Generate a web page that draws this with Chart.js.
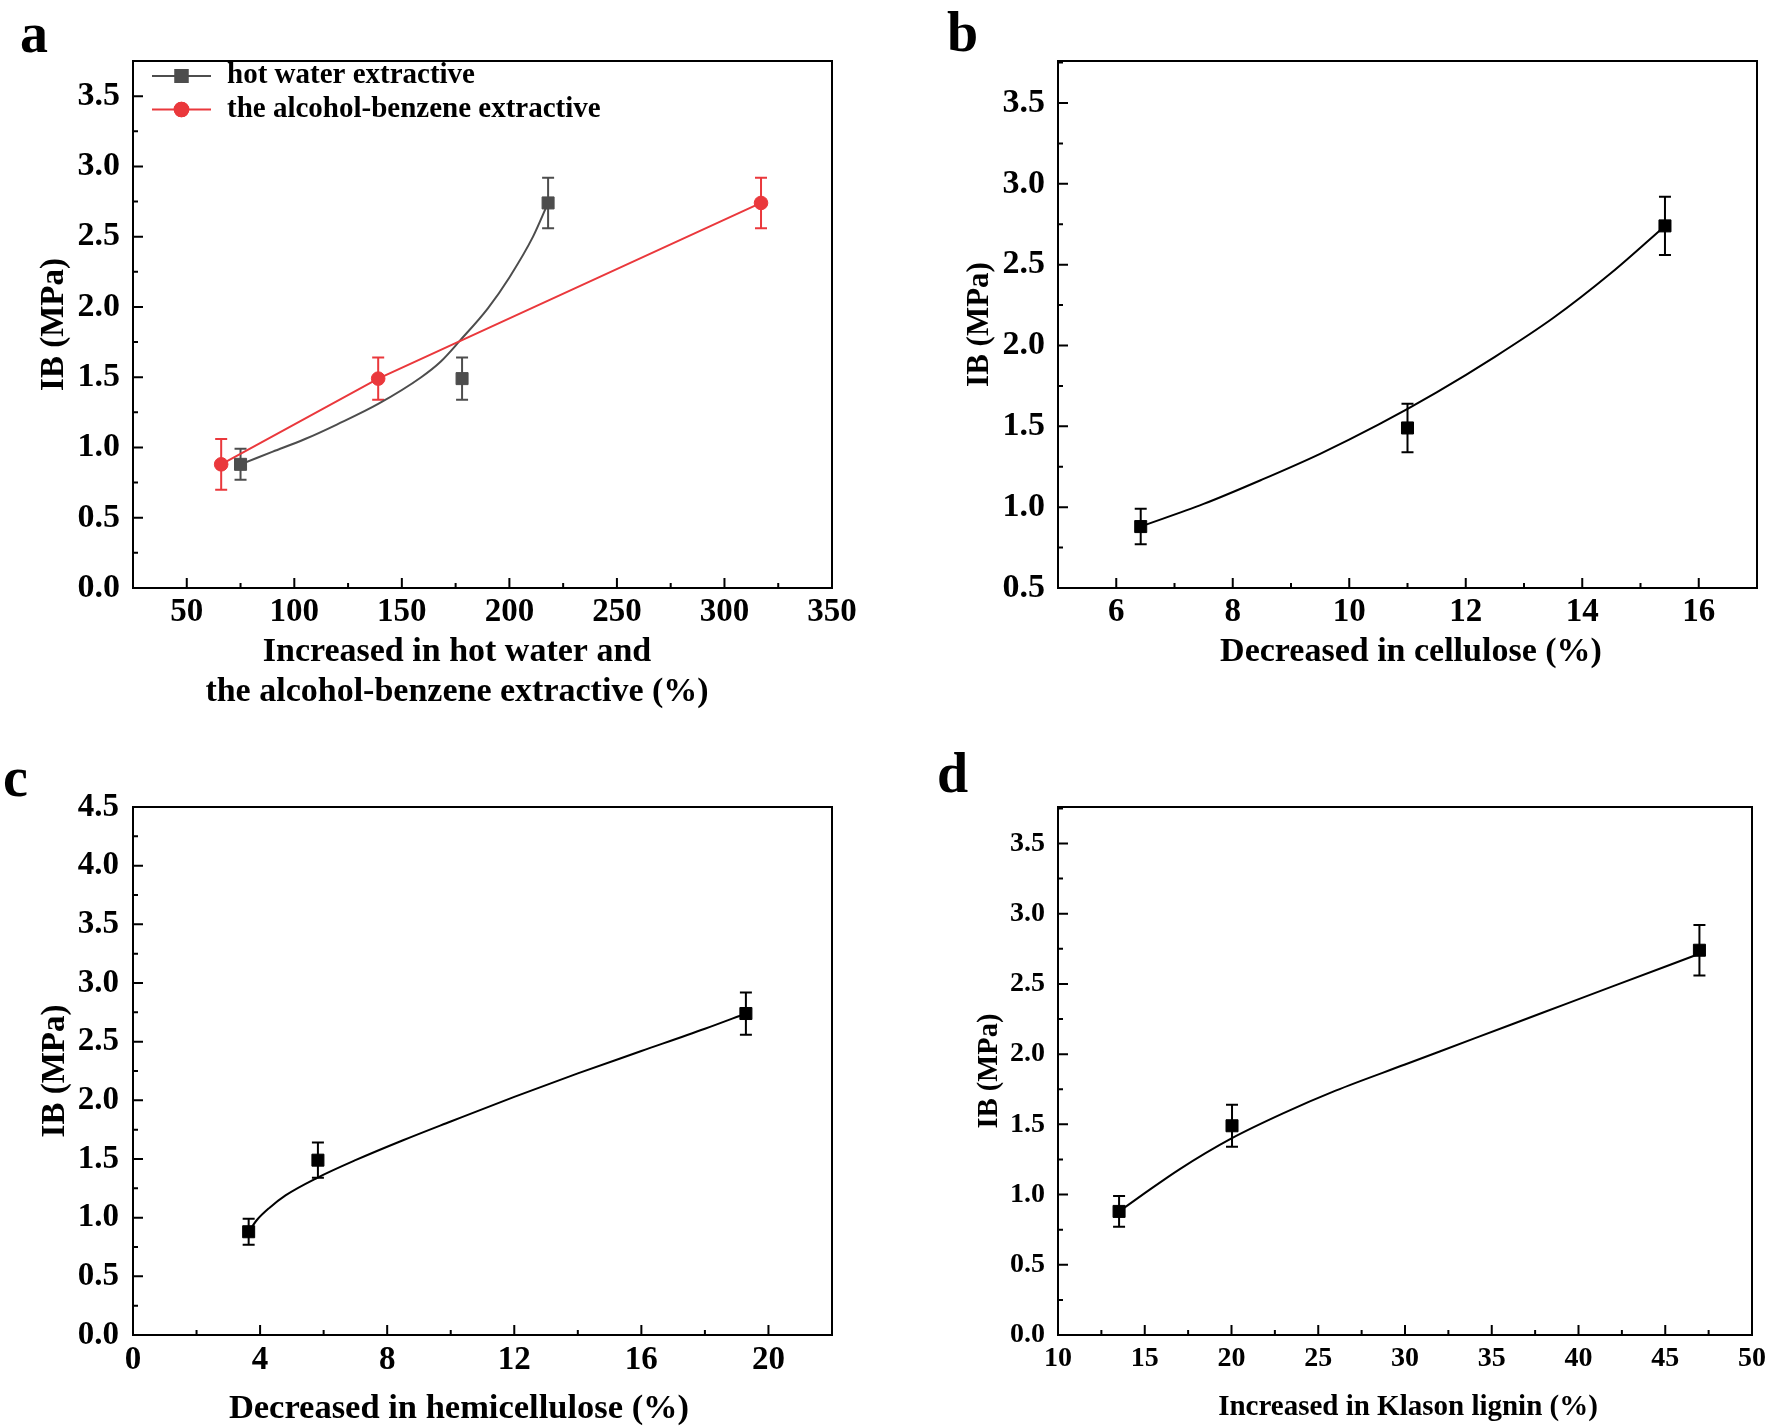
<!DOCTYPE html>
<html>
<head>
<meta charset="utf-8">
<script src="https://cdn.jsdelivr.net/npm/chart.js@4.4.1/dist/chart.umd.min.js"></script>
<style>
  html, body { margin: 0; padding: 0; background: #fff; }
  #fig { position: relative; width: 1773px; height: 1428px; overflow: hidden; background: #fff; }
  #fig canvas { position: absolute; }
</style>
</head>
<body>
<div id="fig">
  <canvas id="panelA" width="886" height="720" style="left:0;top:0"></canvas>
  <canvas id="panelB" width="887" height="720" style="left:886px;top:0"></canvas>
  <canvas id="panelC" width="886" height="708" style="left:0;top:720px"></canvas>
  <canvas id="panelD" width="887" height="708" style="left:886px;top:720px"></canvas>
</div>
<script>
const SERIF = '"Liberation Serif", "Times New Roman", serif';

// IB (MPa) of the three samples, shared by every panel
const ibMean = [0.88, 1.49, 2.74];
const ibErr = [0.11, 0.15, 0.18];

// a - extractives
const hotWaterX = [75, 178, 218];
const alcoholX = [66, 139, 317];
const alcoholErr = [0.18, 0.15, 0.18];
const hotFitX = [75, 90, 105, 120, 139, 159, 168, 177, 190, 200, 211, 218];
const hotFitY = [0.88, 0.97, 1.06, 1.165, 1.31, 1.50, 1.61, 1.76, 1.99, 2.21, 2.50, 2.74];

// b - cellulose
const celluloseX = [6.42, 11.0, 15.42];
const celluloseFitX = [6.42, 7.5, 8.5, 9.5, 10.5, 11.5, 12.5, 13.5, 14.5, 15.42];
const celluloseFitY = [0.88, 1.02, 1.17, 1.33, 1.51, 1.71, 1.93, 2.17, 2.45, 2.74];

// c - hemicellulose
const hemiX = [3.64, 5.82, 19.29];
const hemiFitX = [3.64, 3.9, 4.3, 4.8, 5.8, 7, 8.5, 10, 12, 14, 16, 18, 19.29];
const hemiFitY = [0.88, 0.98, 1.085, 1.19, 1.34, 1.49, 1.66, 1.82, 2.03, 2.23, 2.42, 2.61, 2.74];

// d - Klason lignin
const ligninX = [13.52, 20.03, 46.97];
const ligninFitX = [13.52, 15, 17, 20, 23, 26, 30, 34, 38, 42, 46.97];
const ligninFitY = [0.88, 1.01, 1.18, 1.40, 1.58, 1.74, 1.926, 2.112, 2.298, 2.484, 2.715];

// tick labels
const aXTicks = [50, 100, 150, 200, 250, 300, 350];
const aYTicks = [0, 0.5, 1, 1.5, 2, 2.5, 3, 3.5];
const bXTicks = [6, 8, 10, 12, 14, 16];
const bYTicks = [0.5, 1, 1.5, 2, 2.5, 3, 3.5];
const cXTicks = [0, 4, 8, 12, 16, 20];
const cYTicks = [0, 0.5, 1, 1.5, 2, 2.5, 3, 3.5, 4, 4.5];
const dXTicks = [10, 15, 20, 25, 30, 35, 40, 45, 50];
const dYTicks = [0, 0.5, 1, 1.5, 2, 2.5, 3, 3.5];

const GRAY = '#4d4d4d';
const RED = '#ea383c';
const BLACK = '#000000';

const pts = (xs, ys) => xs.map((x, i) => ({ x: x, y: ys[i] }));

function markerSet(xs, ys, errs, color, style, radius, legendText, joined) {
  return {
    data: pts(xs, ys),
    errors: errs,
    legendText: legendText,
    borderColor: color,
    backgroundColor: color,
    pointStyle: style,
    pointRadius: radius,
    pointBorderWidth: 1,
    pointBorderColor: color,
    pointBackgroundColor: color,
    showLine: !!joined,
    borderWidth: 2,
    tension: 0,
    order: 0
  };
}

function curveSet(xs, ys, color) {
  return {
    data: pts(xs, ys),
    borderColor: color,
    borderWidth: 2,
    showLine: true,
    pointRadius: 0,
    cubicInterpolationMode: 'monotone',
    order: 1
  };
}

function allTicks(spec) {
  const step = spec.minor, out = [];
  for (let v = spec.major[0]; v >= spec.min - 1e-9; v -= step) out.unshift(+v.toFixed(6));
  for (let v = spec.major[0] + step; v <= spec.max + 1e-9; v += step) out.push(+v.toFixed(6));
  return out;
}

function axis(spec, isX) {
  const t = {
    type: 'linear',
    min: spec.min,
    max: spec.max,
    grid: { display: false, drawTicks: false },
    border: { display: false },
    ticks: {
      font: { family: SERIF, size: spec.font, weight: 'bold', lineHeight: 1.2 },
      color: '#000',
      padding: spec.pad,
      autoSkip: false,
      maxRotation: 0,
      callback: (v) => spec.major.some(m => Math.abs(m - v) < 1e-6) ? v.toFixed(spec.digits) : ''
    },
    afterBuildTicks: (scale) => { scale.ticks = allTicks(spec).map(v => ({ value: v })); },
    afterFit: (scale) => { if (isX) scale.height = spec.size; else scale.width = spec.size; }
  };
  if (spec.title) {
    t.title = {
      display: true,
      text: spec.title,
      color: '#000',
      font: { family: SERIF, size: spec.titleFont, weight: 'bold', lineHeight: 1.2 },
      padding: { top: spec.titlePad, bottom: 0 }
    };
  }
  return t;
}

// frame round the plot and inward tick marks on the bottom and left axes
const frameTicks = {
  id: 'frameTicks',
  afterDraw(chart) {
    const { ctx, chartArea: a, scales } = chart;
    ctx.save();
    ctx.strokeStyle = '#000';
    ctx.lineWidth = 2;
    ctx.strokeRect(a.left, a.top, a.right - a.left, a.bottom - a.top);
    ctx.beginPath();
    scales.x.ticks.forEach(t => {
      const px = scales.x.getPixelForValue(t.value);
      ctx.moveTo(px, a.bottom);
      ctx.lineTo(px, a.bottom - (t.label ? 10 : 5));
    });
    scales.y.ticks.forEach(t => {
      const py = scales.y.getPixelForValue(t.value);
      ctx.moveTo(a.left, py);
      ctx.lineTo(a.left + (t.label ? 10 : 5), py);
    });
    ctx.stroke();
    ctx.restore();
  }
};

const errorBars = {
  id: 'errorBars',
  beforeDatasetsDraw(chart) {
    const { ctx, scales: { x, y } } = chart;
    chart.data.datasets.forEach(ds => {
      if (!ds.errors) return;
      ctx.save();
      ctx.strokeStyle = ds.borderColor;
      ctx.lineWidth = 2;
      ctx.beginPath();
      ds.data.forEach((p, i) => {
        const px = x.getPixelForValue(p.x);
        const top = y.getPixelForValue(p.y + ds.errors[i]);
        const bot = y.getPixelForValue(p.y - ds.errors[i]);
        ctx.moveTo(px, top); ctx.lineTo(px, bot);
        ctx.moveTo(px - 6, top); ctx.lineTo(px + 6, top);
        ctx.moveTo(px - 6, bot); ctx.lineTo(px + 6, bot);
      });
      ctx.stroke();
      ctx.restore();
    });
  }
};

// panel letter, x-axis title and the inset legend
const panelText = {
  id: 'panelText',
  afterDraw(chart, args, opts) {
    const ctx = chart.ctx;
    ctx.save();
    ctx.fillStyle = '#000';
    ctx.font = 'bold ' + opts.letter.size + 'px ' + SERIF;
    ctx.textAlign = 'left';
    ctx.textBaseline = 'alphabetic';
    ctx.fillText(opts.letter.text, opts.letter.x, opts.letter.y);

    ctx.font = 'bold ' + opts.xTitle.size + 'px ' + SERIF;
    ctx.textAlign = 'center';
    ctx.textBaseline = 'middle';
    opts.xTitle.lines.forEach((line, i) => {
      ctx.fillText(line, opts.xTitle.x, opts.xTitle.y + i * opts.xTitle.gap);
    });

    if (opts.legend) {
      const L = opts.legend;
      let row = 0;
      chart.data.datasets.forEach(ds => {
        if (!ds.legendText) return;
        const y = L.y + row * L.gap;
        ctx.strokeStyle = ds.borderColor;
        ctx.lineWidth = 2;
        ctx.beginPath();
        ctx.moveTo(L.x0, y);
        ctx.lineTo(L.x1, y);
        ctx.stroke();
        Chart.helpers.drawPoint(ctx, {
          pointStyle: ds.pointStyle, radius: ds.pointRadius, borderWidth: 1, rotation: 0
        }, (L.x0 + L.x1) / 2, y);
        ctx.fillStyle = ds.backgroundColor;
        ctx.strokeStyle = ds.borderColor;
        ctx.fill();
        ctx.stroke();
        ctx.fillStyle = '#000';
        ctx.font = 'bold ' + L.size + 'px ' + SERIF;
        ctx.textAlign = 'left';
        ctx.fillText(ds.legendText, L.textX, y);
        row++;
      });
    }
    ctx.restore();
  }
};

function makePanel(id, p) {
  return new Chart(document.getElementById(id), {
    type: 'scatter',
    data: { datasets: p.datasets },
    options: {
      responsive: false,
      animation: false,
      events: [],
      layout: { autoPadding: false, padding: { top: p.padTop, right: p.padRight, left: 0, bottom: 0 } },
      scales: { x: axis(p.x, true), y: axis(p.y, false) },
      plugins: {
        legend: { display: false },
        tooltip: { enabled: false },
        panelText: p.text
      }
    },
    plugins: [errorBars, frameTicks, panelText]
  });
}

Chart.defaults.font.family = SERIF;

makePanel('panelA', {
  padTop: 61, padRight: 54,
  x: { min: 25, max: 350, major: aXTicks, minor: 25, digits: 0, font: 33, pad: 5, size: 132 },
  y: { min: 0, max: 3.75, major: aYTicks, minor: 0.25, digits: 1, font: 34, pad: 13, size: 133,
       title: 'IB (MPa)', titleFont: 33, titlePad: 35 },
  datasets: [
    markerSet(hotWaterX, ibMean, ibErr, GRAY, 'rect', 8.5, 'hot water extractive', false),
    markerSet(alcoholX, ibMean, alcoholErr, RED, 'circle', 6.8, 'the alcohol-benzene extractive', true),
    curveSet(hotFitX, hotFitY, GRAY)
  ],
  text: {
    letter: { text: 'a', x: 20, y: 52, size: 56 },
    xTitle: { lines: ['Increased in hot water and', 'the alcohol-benzene extractive (%)'], x: 457, y: 652, gap: 40, size: 34 },
    legend: { x0: 152, x1: 211, y: 76, gap: 33.5, textX: 227, size: 29 }
  }
});

makePanel('panelB', {
  padTop: 61, padRight: 16,
  x: { min: 5, max: 17, major: bXTicks, minor: 1, digits: 0, font: 33, pad: 5, size: 132 },
  y: { min: 0.5, max: 3.76, major: bYTicks, minor: 0.25, digits: 1, font: 34, pad: 13, size: 172,
       title: 'IB (MPa)', titleFont: 31, titlePad: 75 },
  datasets: [
    markerSet(celluloseX, ibMean, ibErr, BLACK, 'rect', 8.5, null, false),
    curveSet(celluloseFitX, celluloseFitY, BLACK)
  ],
  text: {
    letter: { text: 'b', x: 61, y: 51, size: 56 },
    xTitle: { lines: ['Decreased in cellulose (%)'], x: 525, y: 652, gap: 40, size: 34 }
  }
});

makePanel('panelC', {
  padTop: 87, padRight: 54,
  x: { min: 0, max: 22, major: cXTicks, minor: 2, digits: 0, font: 33, pad: 6, size: 93 },
  y: { min: 0, max: 4.5, major: cYTicks, minor: 0.25, digits: 1, font: 33, pad: 14, size: 133,
       title: 'IB (MPa)', titleFont: 33, titlePad: 36 },
  datasets: [
    markerSet(hemiX, ibMean, ibErr, BLACK, 'rect', 8.5, null, false),
    curveSet(hemiFitX, hemiFitY, BLACK)
  ],
  text: {
    letter: { text: 'c', x: 3, y: 76, size: 56 },
    xTitle: { lines: ['Decreased in hemicellulose (%)'], x: 459, y: 689, gap: 40, size: 34.5 }
  }
});

makePanel('panelD', {
  padTop: 87, padRight: 16,
  x: { min: 10, max: 50, major: dXTicks, minor: 2.5, digits: 0, font: 28, pad: 7, size: 93 },
  y: { min: 0, max: 3.76, major: dYTicks, minor: 0.25, digits: 1, font: 28, pad: 13, size: 172,
       title: 'IB (MPa)', titleFont: 28.5, titlePad: 87 },
  datasets: [
    markerSet(ligninX, ibMean, ibErr, BLACK, 'rect', 8.5, null, false),
    curveSet(ligninFitX, ligninFitY, BLACK)
  ],
  text: {
    letter: { text: 'd', x: 51, y: 72, size: 56 },
    xTitle: { lines: ['Increased in Klason lignin (%)'], x: 522, y: 687.5, gap: 40, size: 29 }
  }
});
</script>
</body>
</html>
